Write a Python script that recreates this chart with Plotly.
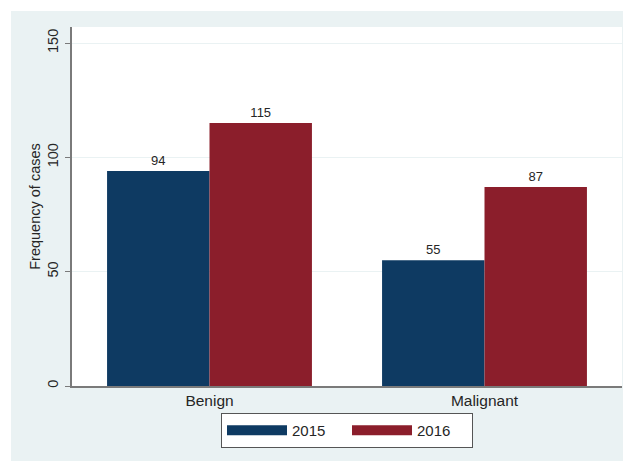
import plotly.graph_objects as go

categories = ["Benign", "Malignant"]
years = ["2015", "2016"]
values_2015 = [94, 55]
values_2016 = [115, 87]
y_ticks = [0, 50, 100, 150]

colors = {"2015": "#0e3a62", "2016": "#8b1e2b"}
bg = "#eaf2f3"
font_family = "Liberation Sans, Arial, Helvetica, sans-serif"
text_color = "#262626"

fig = go.Figure()
for yr, vals in zip(years, [values_2015, values_2016]):
    fig.add_trace(go.Bar(
        x=categories, y=vals, name=yr,
        marker=dict(color=colors[yr], line=dict(width=0)),
        text=[str(v) for v in vals], textposition="outside",
        textfont=dict(size=13, color=text_color),
        cliponaxis=False, showlegend=False,
    ))
    # legend entry drawn as a thick line sample
    fig.add_trace(go.Scatter(
        x=[None], y=[None], mode="lines", name=yr,
        line=dict(color=colors[yr], width=16), showlegend=True,
    ))

fig.update_layout(
    width=623, height=461,
    margin=dict(l=72, r=1, t=27, b=75, autoexpand=False),
    paper_bgcolor="white", plot_bgcolor="white",
    barmode="group", bargap=0.255, bargroupgap=0,
    font=dict(family=font_family, color=text_color, size=14),
    showlegend=True,
    legend=dict(orientation="h", x=0.5, xanchor="center", y=-0.075, yanchor="top",
                bgcolor="white", bordercolor="#555555", borderwidth=1,
                font=dict(size=15), itemwidth=60, entrywidth=50,
                entrywidthmode="pixels", traceorder="normal"),
    shapes=[
        dict(type="rect", xref="paper", yref="paper",
             x0=(11 - 72) / 550, x1=(623 - 72) / 550,
             y0=-(461 - 386) / 359, y1=(386 - 11) / 359,
             fillcolor=bg, line=dict(width=0), layer="below"),
        dict(type="rect", xref="paper", yref="paper", x0=0, x1=1, y0=0, y1=1,
             fillcolor="white", line=dict(width=0), layer="below"),
    ],
)
fig.update_xaxes(
    type="category", range=[-0.5, 1.5], showline=True, linecolor="#7a7a7a", linewidth=1.5,
    ticks="", showgrid=False, tickfont=dict(size=15.5), ticklabelstandoff=0,
    automargin=False,
)
fig.update_yaxes(
    range=[0, 157], tickvals=y_ticks, ticktext=[str(t) for t in y_ticks],
    tickangle=-90, ticks="outside", ticklen=5, tickcolor="#7a7a7a", tickwidth=1,
    showline=True, linecolor="#7a7a7a", linewidth=1.5,
    showgrid=True, gridcolor=bg, gridwidth=1, zeroline=False,
    tickfont=dict(size=14.5), ticklabelstandoff=1,
    title=dict(text="Frequency of cases", font=dict(size=14.5), standoff=1),
    automargin=False,
)

fig.write_html("out.html", config={"displayModeBar": False},
               post_script="document.body.style.margin='0';document.body.style.overflow='hidden';")
